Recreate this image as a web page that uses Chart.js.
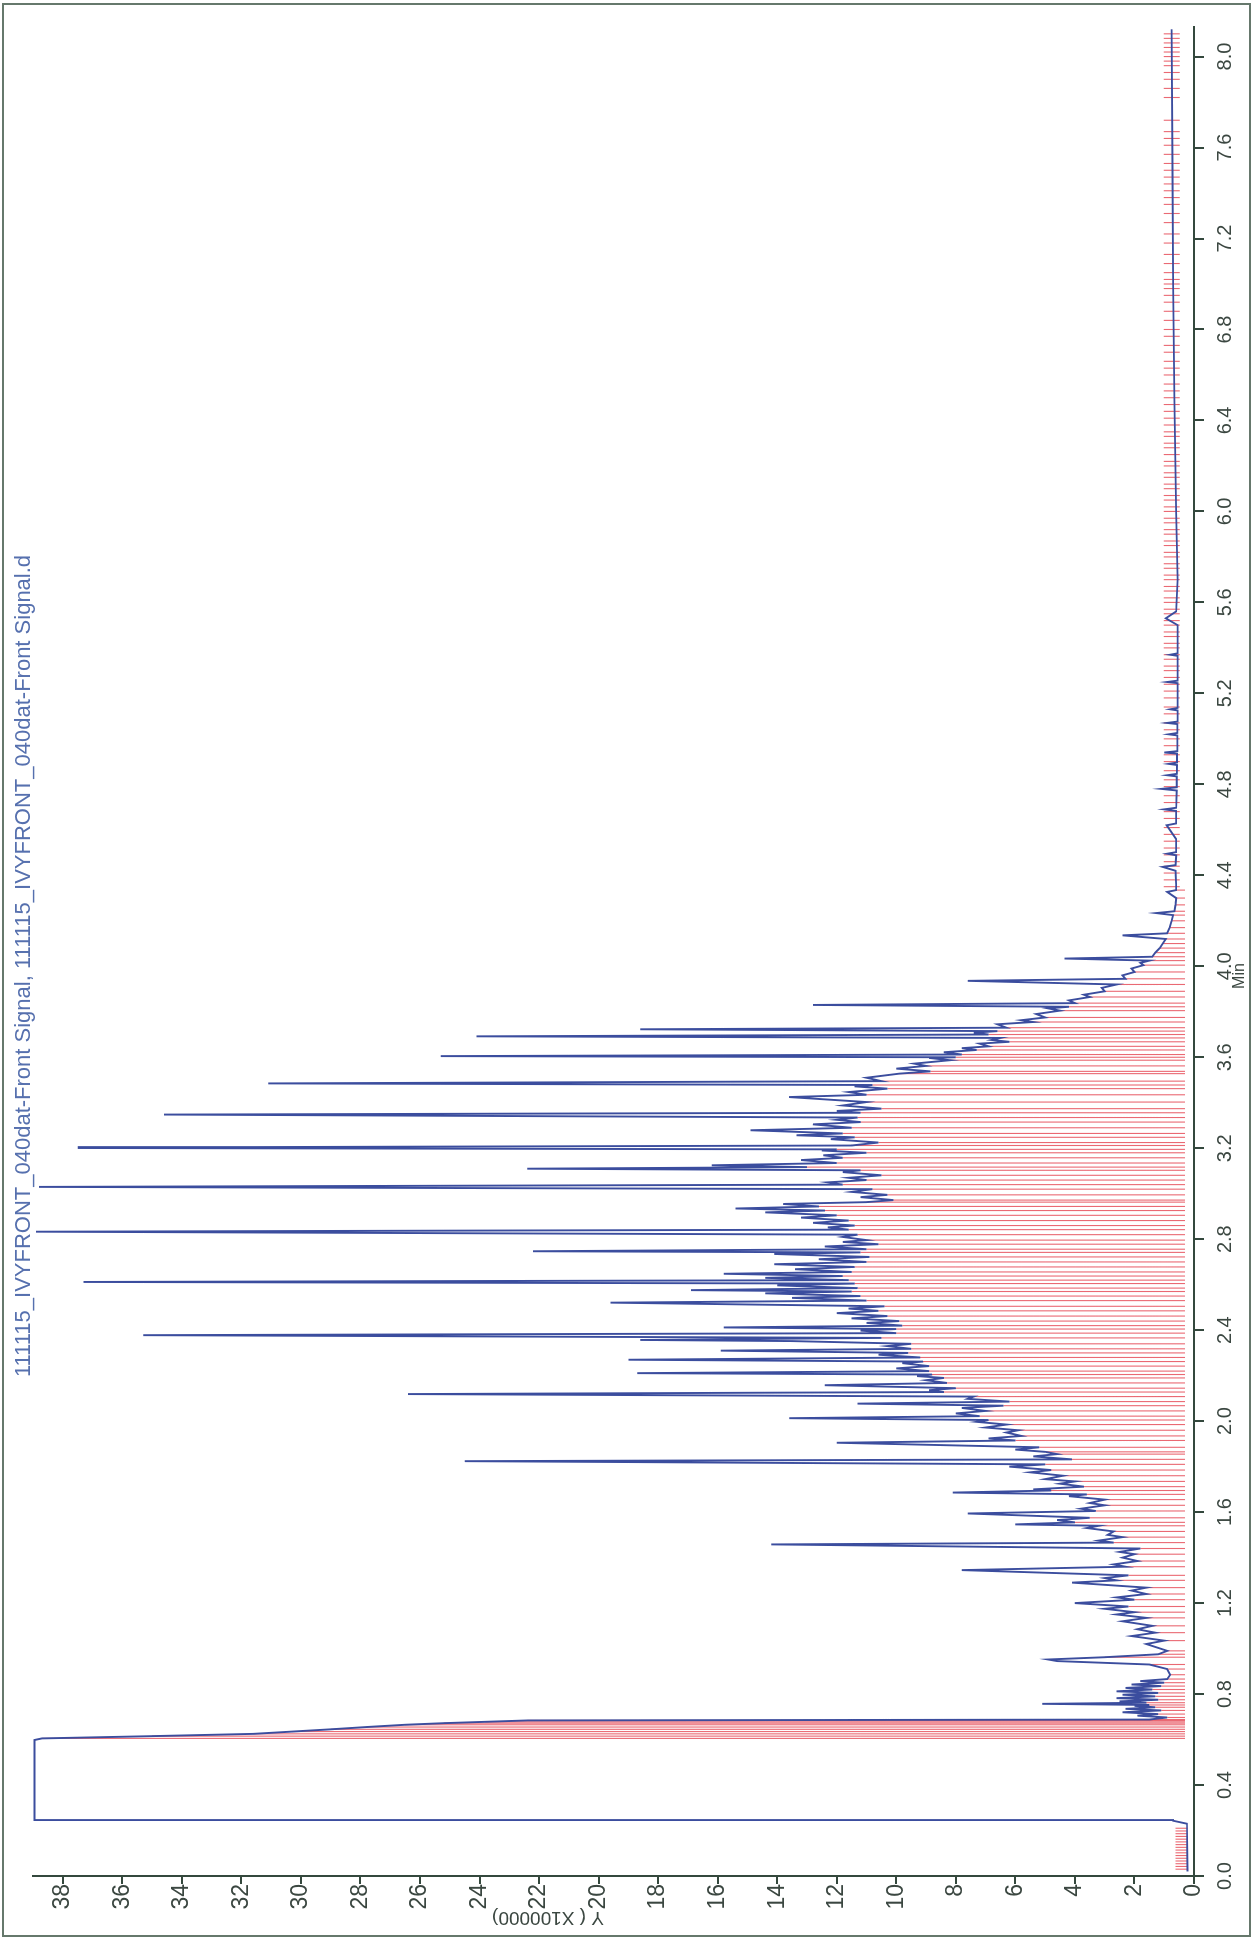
<!DOCTYPE html>
<html>
<head>
<meta charset="utf-8">
<title>Front Signal chromatogram</title>
<script src="https://cdn.jsdelivr.net/npm/chart.js@4.4.0/dist/chart.umd.min.js"></script>
<style>
  html, body { margin: 0; padding: 0; background: #fff; overflow: hidden; }
  /* the printout is turned a quarter turn, so the chart is drawn upright and rotated */
  #wrap { position: absolute; left: 0; top: 0; width: 1944px; height: 1260px;
          transform-origin: 0 0; transform: translate(0px, 1944px) rotate(-90deg); }
</style>
</head>
<body>
<div id="wrap"><canvas id="chrom" width="1944" height="1260"></canvas></div>
<script>
// time in Min, signal in Y (x100000)
const titleText = '111115_IVYFRONT_040dat-Front Signal, 111115_IVYFRONT_040dat-Front Signal.d';
const timeMax = 8.13;
const signalMax = 39.0;

// start of run and the off-scale solvent peak
const solventFront = [
  [0.02, 0.22], [0.23, 0.24], [0.243, 0.7], [0.246, 38.95], [0.598, 38.95]
];

// valley / baseline points of the trace: integration drop lines are drawn at these
const valleys = [
  [0.605, 38.7], [0.615, 35.0], [0.625, 31.6], [0.635, 30.3], [0.645, 29.0], [0.655, 27.8],
  [0.665, 26.5], [0.672, 25.2], [0.678, 23.8], [0.684, 22.4], [0.688, 1.5], [0.697, 0.9],
  [0.712, 1.2], [0.728, 1.1], [0.742, 1.3], [0.752, 1.5], [0.762, 1.6], [0.775, 1.2],
  [0.79, 1.3], [0.805, 1.2], [0.82, 1.4], [0.835, 1.1], [0.85, 1.0], [0.866, 0.9],
  [0.885, 0.8], [0.91, 0.9], [0.93, 1.5], [0.962, 3.0], [0.975, 1.2], [0.99, 0.9],
  [1.035, 1.0], [1.07, 1.3], [1.10, 1.4], [1.135, 1.6], [1.16, 2.0], [1.185, 2.2],
  [1.215, 2.0], [1.24, 1.6], [1.268, 1.6], [1.30, 2.6], [1.322, 2.2], [1.36, 2.3],
  [1.385, 1.9], [1.415, 2.0], [1.44, 1.8], [1.466, 2.7], [1.49, 2.4], [1.515, 2.7],
  [1.54, 3.2], [1.555, 4.0], [1.575, 3.5], [1.605, 3.3], [1.63, 3.0], [1.655, 3.0],
  [1.678, 3.6], [1.695, 4.8], [1.712, 3.7], [1.735, 4.0], [1.76, 4.4], [1.785, 4.8],
  [1.81, 5.0], [1.832, 4.1], [1.855, 4.6], [1.865, 5.0], [1.885, 5.2], [1.915, 6.0],
  [1.935, 5.8], [1.96, 5.9], [1.985, 6.3], [2.005, 6.9], [2.022, 7.2], [2.045, 7.0],
  [2.068, 6.4], [2.086, 6.2], [2.108, 7.4], [2.128, 8.4], [2.145, 8.0], [2.168, 8.3],
  [2.19, 8.4], [2.205, 8.8], [2.22, 8.9], [2.242, 8.9], [2.262, 9.1], [2.28, 9.2],
  [2.30, 9.6], [2.318, 9.5], [2.34, 9.5], [2.366, 10.5], [2.387, 10.0], [2.405, 10.0],
  [2.42, 9.8], [2.44, 9.9], [2.462, 10.3], [2.485, 10.6], [2.505, 10.4], [2.53, 11.0],
  [2.55, 11.2], [2.57, 11.5], [2.585, 11.3], [2.605, 11.4], [2.62, 11.6], [2.638, 11.8],
  [2.656, 11.5], [2.678, 11.4], [2.70, 11.0], [2.722, 10.9], [2.742, 11.2], [2.756, 11.0],
  [2.778, 10.6], [2.796, 11.0], [2.82, 11.3], [2.842, 11.6], [2.86, 11.4], [2.882, 11.6],
  [2.905, 12.0], [2.926, 12.4], [2.944, 12.6], [2.963, 11.0], [2.972, 10.1], [2.995, 10.3],
  [3.02, 10.8], [3.04, 11.8], [3.06, 11.0], [3.081, 10.5], [3.103, 11.2], [3.117, 13.0],
  [3.135, 12.0], [3.158, 11.8], [3.18, 11.0], [3.195, 12.0], [3.212, 11.5], [3.225, 10.6],
  [3.248, 11.4], [3.265, 11.8], [3.29, 11.5], [3.315, 11.2], [3.335, 11.3], [3.356, 11.2],
  [3.374, 10.5], [3.403, 11.0], [3.435, 11.0], [3.462, 10.3], [3.478, 10.8], [3.495, 10.5],
  [3.528, 9.9], [3.538, 8.85], [3.562, 9.0], [3.587, 8.2], [3.60, 8.0], [3.612, 7.8],
  [3.632, 7.3], [3.648, 6.9], [3.668, 6.2], [3.685, 6.5], [3.70, 6.9], [3.715, 6.6],
  [3.73, 6.3], [3.755, 5.4], [3.775, 5.0], [3.805, 4.5], [3.822, 4.2], [3.838, 4.0],
  [3.865, 3.5], [3.89, 3.0], [3.92, 2.6], [3.945, 2.3], [3.975, 2.0], [4.005, 1.7],
  [4.025, 1.5], [4.042, 1.4], [4.06, 1.3], [4.08, 1.15], [4.10, 1.05], [4.12, 0.95],
  [4.145, 0.9], [4.17, 0.82], [4.20, 0.75], [4.225, 0.7], [4.242, 0.66], [4.27, 0.62],
  [4.30, 0.6], [4.335, 0.6]
];

// peak tips between the valleys
const spikes = [
  [0.705, 1.9], [0.72, 2.4], [0.735, 2.3], [0.748, 2.0], [0.757, 5.1], [0.768, 2.5],
  [0.782, 2.6], [0.797, 2.4], [0.812, 2.6], [0.827, 2.3], [0.842, 2.1], [0.857, 1.8],
  [0.945, 4.6], [0.952, 4.9], [1.02, 1.6], [1.055, 2.1], [1.085, 1.9], [1.12, 2.4],
  [1.15, 2.6], [1.175, 3.0], [1.20, 4.0], [1.225, 2.6], [1.255, 2.1], [1.29, 4.1],
  [1.31, 3.0], [1.345, 7.8], [1.37, 2.7], [1.40, 2.4], [1.425, 2.5], [1.458, 14.2],
  [1.475, 3.2], [1.50, 2.9], [1.53, 3.6], [1.546, 6.0], [1.565, 4.6], [1.594, 7.6],
  [1.615, 3.8], [1.64, 3.5], [1.67, 4.2], [1.686, 8.1], [1.70, 5.4], [1.725, 4.5],
  [1.745, 5.0], [1.775, 5.5], [1.80, 6.2], [1.824, 24.5], [1.845, 5.4], [1.875, 6.0],
  [1.905, 12.0], [1.924, 6.9], [1.95, 6.3], [1.972, 7.0], [1.997, 7.3], [2.013, 13.6],
  [2.034, 8.0], [2.058, 7.8], [2.077, 11.3], [2.098, 7.6], [2.119, 26.4], [2.136, 8.9],
  [2.158, 12.4], [2.18, 9.0], [2.198, 9.3], [2.211, 18.7], [2.232, 10.0], [2.255, 9.8],
  [2.27, 19.0], [2.292, 10.6], [2.31, 15.9], [2.33, 10.3], [2.352, 13.5], [2.357, 18.6],
  [2.378, 35.3], [2.398, 11.2], [2.412, 15.8], [2.432, 11.0], [2.452, 11.5], [2.475, 12.0],
  [2.495, 11.6], [2.521, 19.6], [2.542, 13.5], [2.562, 14.4], [2.576, 16.9], [2.597, 14.0],
  [2.612, 37.3], [2.63, 14.4], [2.648, 15.8], [2.668, 13.4], [2.69, 14.1], [2.712, 12.6],
  [2.735, 14.1], [2.747, 22.2], [2.768, 12.4], [2.788, 11.8], [2.81, 11.8], [2.833, 38.9],
  [2.852, 12.3], [2.872, 12.8], [2.895, 13.2], [2.918, 14.4], [2.935, 15.4], [2.955, 13.8],
  [2.985, 11.2], [3.008, 11.5], [3.03, 38.8], [3.05, 12.3], [3.07, 11.6], [3.095, 11.8],
  [3.11, 22.4], [3.125, 16.2], [3.148, 13.2], [3.169, 12.45], [3.19, 12.5], [3.201, 37.5],
  [3.205, 31.6], [3.24, 12.2], [3.257, 13.35], [3.279, 14.9], [3.305, 12.8], [3.325, 12.0],
  [3.348, 34.6], [3.364, 12.0], [3.388, 11.8], [3.425, 13.6], [3.447, 11.6], [3.472, 11.4],
  [3.485, 31.1], [3.51, 11.0], [3.55, 10.0], [3.572, 9.4], [3.597, 8.9], [3.605, 25.3],
  [3.622, 8.4], [3.64, 7.8], [3.66, 7.2], [3.676, 6.8], [3.692, 24.1], [3.708, 7.4],
  [3.723, 18.6], [3.745, 6.6], [3.763, 5.8], [3.79, 5.3], [3.815, 4.9], [3.83, 12.8],
  [3.85, 4.2], [3.875, 3.7], [3.905, 3.1], [3.936, 7.6], [3.96, 2.4], [3.99, 2.1],
  [4.015, 1.8], [4.034, 4.35], [4.136, 2.4], [4.234, 1.27], [4.327, 0.9]
];

// flat end of the run with its small peaks
const lateTrace = [
  [4.36, 0.6], [4.42, 0.62], [4.437, 1.05], [4.445, 0.62], [4.488, 0.6], [4.495, 0.9],
  [4.502, 0.6], [4.56, 0.6], [4.62, 0.92], [4.628, 0.6], [4.683, 0.6], [4.69, 1.0],
  [4.697, 0.6], [4.773, 0.58], [4.78, 1.1], [4.787, 0.58], [4.835, 0.58], [4.84, 0.9],
  [4.846, 0.58], [4.885, 0.57], [4.89, 0.85], [4.896, 0.57], [4.935, 0.57], [4.94, 1.0],
  [4.946, 0.56], [5.015, 0.56], [5.02, 0.85], [5.026, 0.56], [5.065, 0.56], [5.07, 0.9],
  [5.076, 0.55], [5.125, 0.55], [5.13, 0.8], [5.136, 0.55], [5.245, 0.55], [5.25, 0.9],
  [5.256, 0.55], [5.365, 0.55], [5.37, 0.8], [5.376, 0.55], [5.5, 0.55], [5.53, 0.95],
  [5.56, 0.6], [5.7, 0.55], [6.0, 0.6], [6.5, 0.66], [7.0, 0.7], [7.5, 0.72], [8.12, 0.75]
];

// short red marks: hatch before the solvent, ticks along the late baseline
const startHatch = [0.03, 0.042, 0.054, 0.066, 0.078, 0.09, 0.102, 0.114, 0.126, 0.138, 0.15, 0.162, 0.174, 0.186, 0.198, 0.21];
const lateTicks = [
  4.35, 4.38, 4.41, 4.44, 4.46, 4.49, 4.52, 4.55, 4.58, 4.61, 4.65, 4.68, 4.72, 4.75, 4.79,
  4.82, 4.86, 4.9, 4.93, 4.97, 5.0, 5.04, 5.07, 5.11, 5.14, 5.18, 5.21, 5.24, 5.27, 5.3,
  5.32, 5.35, 5.37, 5.4, 5.42, 5.45, 5.47, 5.5, 5.52, 5.55, 5.57, 5.6, 5.62, 5.65, 5.67,
  5.7, 5.72, 5.75, 5.77, 5.8, 5.82, 5.85, 5.87, 5.9, 5.92, 5.95, 5.97, 6.0, 6.02, 6.05,
  6.07, 6.1, 6.12, 6.15, 6.17, 6.2, 6.22, 6.25, 6.28, 6.3, 6.33, 6.35, 6.38, 6.41, 6.44,
  6.47, 6.5, 6.53, 6.56, 6.6, 6.63, 6.66, 6.7, 6.73, 6.77, 6.8, 6.84, 6.88, 6.92, 6.95,
  6.98, 7.0, 7.02, 7.05, 7.09, 7.13, 7.18, 7.22, 7.27, 7.31, 7.35, 7.38, 7.41, 7.44, 7.47,
  7.5, 7.53, 7.57, 7.61, 7.64, 7.67, 7.72, 7.82, 7.86, 7.9, 7.93, 7.96, 7.98, 8.0, 8.02,
  8.04, 8.06, 8.08, 8.1
];
const dropFloor = 0.3;
const hatchRange = [0.22, 0.62];
const tickRange = [0.48, 1.02];

const traceColor = '#3b4d9e';
const dropColor = 'rgba(229, 72, 84, 0.82)';
const axisColor = '#34483d';
const labelColor = '#3b4741';
const fontFamily = '"Liberation Sans", Arial, sans-serif';

// whole trace, in time order
const trace = [...solventFront, ...valleys, ...spikes, ...lateTrace]
  .sort((a, b) => a[0] - b[0])
  .map(p => ({ x: p[0], y: p[1] }));

// red segments, split by null gaps
function segments(list) {
  const out = [];
  list.forEach(([t, lo, hi]) => {
    out.push({ x: t, y: lo }, { x: t, y: hi }, { x: t, y: null });
  });
  return out;
}
const redMarks = segments([
  ...startHatch.map(t => [t, hatchRange[0], hatchRange[1]]),
  ...valleys.map(([t, y]) => [t, dropFloor, y]),
  ...lateTicks.map(t => [t, tickRange[0], tickRange[1]])
]);

const annotate = {
  id: 'annotate',
  afterDraw(chart) {
    const ctx = chart.ctx;
    ctx.save();
    // outer frame of the printout
    ctx.strokeStyle = '#66786c';
    ctx.lineWidth = 2;
    ctx.strokeRect(8, 3, 1932, 1247);
    // header line
    ctx.fillStyle = '#5670ae';
    ctx.font = '22px ' + fontFamily;
    ctx.textAlign = 'center';
    ctx.textBaseline = 'middle';
    ctx.fillText(titleText, 978, 24);
    // axis names
    ctx.fillStyle = labelColor;
    ctx.font = '16px ' + fontFamily;
    ctx.fillText('Min', 968, 1240);
    ctx.translate(27, 548);
    ctx.rotate(-Math.PI / 2);
    ctx.font = '19px ' + fontFamily;
    ctx.fillText('Y ( X100000)', 0, 0);
    ctx.restore();
  }
};

new Chart(document.getElementById('chrom'), {
  type: 'line',
  data: {
    datasets: [
      {
        data: trace,
        borderColor: traceColor,
        borderWidth: 1.9,
        pointRadius: 0,
        tension: 0,
        order: 0
      },
      {
        data: redMarks,
        borderColor: dropColor,
        borderWidth: 1.1,
        pointRadius: 0,
        spanGaps: false,
        order: 1
      }
    ]
  },
  options: {
    responsive: false,
    animation: false,
    devicePixelRatio: 1,
    layout: { padding: { top: 33, right: 27, left: 0, bottom: 0 } },
    plugins: { legend: { display: false }, tooltip: { enabled: false } },
    scales: {
      x: {
        type: 'linear',
        min: 0,
        max: timeMax,
        afterFit: s => { s.height = 66; },
        border: { display: true, color: axisColor, width: 2 },
        grid: { drawOnChartArea: false, drawTicks: true, tickLength: 10, color: axisColor, lineWidth: 2 },
        ticks: {
          stepSize: 0.4,
          includeBounds: false,
          autoSkip: false,
          maxRotation: 0,
          padding: 9,
          color: labelColor,
          font: { family: fontFamily, size: 20 },
          callback: v => v.toFixed(1)
        }
      },
      y: {
        type: 'linear',
        min: 0,
        max: signalMax,
        afterFit: s => { s.width = 68; },
        border: { display: true, color: axisColor, width: 2 },
        grid: { drawOnChartArea: false, drawTicks: true, tickLength: 8, color: axisColor, lineWidth: 2 },
        ticks: {
          stepSize: 2,
          includeBounds: false,
          autoSkip: false,
          padding: 0,
          color: labelColor,
          font: { family: fontFamily, size: 23 },
          callback: v => String(Math.round(v))
        }
      }
    }
  },
  plugins: [annotate]
});
</script>
</body>
</html>
